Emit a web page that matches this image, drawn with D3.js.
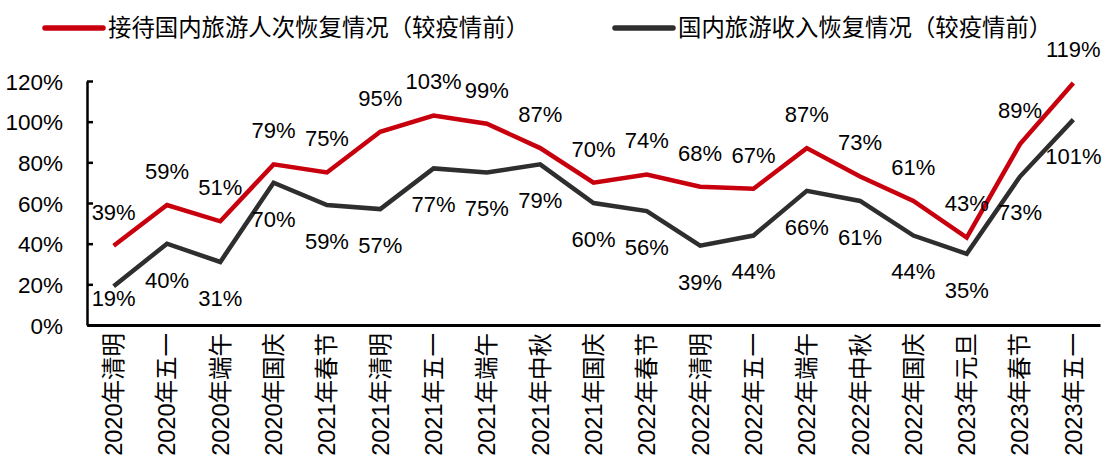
<!DOCTYPE html>
<html><head><meta charset="utf-8">
<script src="https://cdn.jsdelivr.net/npm/d3@7"></script>
<style>
html,body{margin:0;padding:0;background:#fff;}
svg text{font-family:"Liberation Sans","Noto Sans CJK SC",Arial,sans-serif;fill:#000;}
</style></head><body>
<svg id="chart" width="1107" height="469"></svg>
<script>
const categories = ["2020年清明","2020年五一","2020年端午","2020年国庆","2021年春节","2021年清明","2021年五一","2021年端午","2021年中秋","2021年国庆","2022年春节","2022年清明","2022年五一","2022年端午","2022年中秋","2022年国庆","2023年元旦","2023年春节","2023年五一"];
const visitors = [39,59,51,79,75,95,103,99,87,70,74,68,67,87,73,61,43,89,119];
const revenue = [19,40,31,70,59,57,77,75,79,60,56,39,44,66,61,44,35,73,101];
const yTicks = [0,20,40,60,80,100,120];
const seriesNames = ["接待国内旅游人次恢复情况（较疫情前）","国内旅游收入恢复情况（较疫情前）"];

(function(){
const colors = ["#C8000E","#2E2E2E"];
const svg = d3.select("#chart");
const mLeft = 87, mRight = 1100, mTop = 81, mBottom = 325;

const x = d3.scaleBand().domain(categories).range([mLeft, mRight]).padding(0);
const y = d3.scaleLinear().domain([0,120]).range([mBottom, mTop]);
const cx = d => x(d) + x.bandwidth()/2;

// Y axis
const yAxis = d3.axisLeft(y).tickValues(yTicks).tickFormat(d => d + "%").tickSizeInner(-6).tickSizeOuter(0).tickPadding(24);
const gy = svg.append("g").attr("transform", `translate(${mLeft},0)`).call(yAxis);
gy.select(".domain").attr("stroke","#000").attr("stroke-width",2.5);
gy.selectAll(".tick line").attr("stroke","#000").attr("stroke-width",2.5);
gy.selectAll(".tick text").attr("font-size","22.5px").attr("x",-24).attr("dy","0.36em");

// X axis
const xAxis = d3.axisBottom(x).tickSize(0).tickSizeOuter(0);
const gx = svg.append("g").attr("transform", `translate(0,${mBottom})`).call(xAxis);
gx.select(".domain").attr("stroke","#000").attr("stroke-width",3);
gx.selectAll(".tick text")
  .attr("font-size","23.5px")
  .attr("text-anchor","end")
  .attr("transform","rotate(-90)")
  .attr("x",-8).attr("y",0).attr("dy","0.36em");

// Lines
const line = d3.line().x((d,i) => cx(categories[i])).y(d => y(d));
[visitors, revenue].forEach((s, k) => {
  svg.append("path").datum(s).attr("fill","none").attr("stroke",colors[k])
    .attr("stroke-width",4.5).attr("stroke-linejoin","miter").attr("d", line);
});

// Labels
svg.append("g").selectAll("text").data(visitors).join("text")
  .attr("x",(d,i)=>cx(categories[i])).attr("y",d=>y(d)-34).attr("dy","0.36em")
  .attr("text-anchor","middle").attr("font-size","22px").text(d=>d+"%");
svg.append("g").selectAll("text").data(revenue).join("text")
  .attr("x",(d,i)=>cx(categories[i])).attr("y",d=>Math.min(y(d)+36, mBottom-27)).attr("dy","0.36em")
  .attr("text-anchor","middle").attr("font-size","22px").text(d=>d+"%");

// Legend
const legendX = [45, 615];
seriesNames.forEach((n,k)=>{
  const g = svg.append("g").attr("transform",`translate(${legendX[k]},28)`);
  g.append("line").attr("x1",0).attr("x2",58).attr("y1",0).attr("y2",0)
    .attr("stroke",colors[k]).attr("stroke-width",5.5).attr("stroke-linecap","round");
  g.append("text").attr("x",63).attr("y",0).attr("dy","0.36em").attr("font-size","23.4px").text(n);
});
})();
</script></body></html>
